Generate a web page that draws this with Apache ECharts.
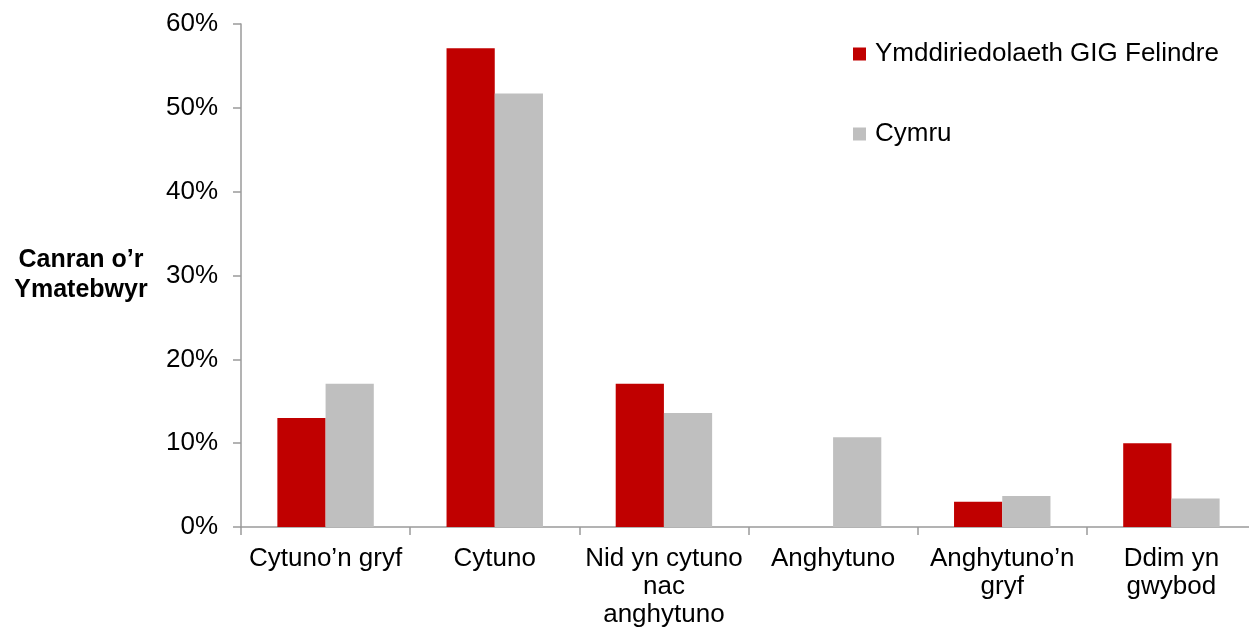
<!DOCTYPE html>
<html>
<head>
<meta charset="utf-8">
<script src="https://cdn.jsdelivr.net/npm/echarts@6/dist/echarts.min.js"></script>
<style>
  html, body { margin: 0; padding: 0; background: #fff; overflow: hidden; }
  /* the chart is slightly wider than the window: the last category runs off the right edge */
  #chart { width: 1256px; height: 634px; }
</style>
</head>
<body>
<div id="chart"></div>
<script>
// Response categories (line breaks as shown under the axis)
const categories = [
  'Cytuno’n gryf',
  'Cytuno',
  'Nid yn cytuno\nnac\nanghytuno',
  'Anghytuno',
  'Anghytuno’n\ngryf',
  'Ddim yn\ngwybod'
];

// Percentage of respondents per category
const seriesNames = ['Ymddiriedolaeth GIG Felindre', 'Cymru'];
const felindreValues = [13.0, 57.1, 17.1, 0, 3.0, 10.0];
const cymruValues = [17.1, 51.7, 13.6, 10.7, 3.7, 3.4];

// Value axis ticks
const yMin = 0;
const yMax = 60;
const yStep = 10;

const axisName = 'Canran o’r\nYmatebwyr';

const FONT = '"Liberation Sans", Arial, sans-serif';
const axisGrey = '#9a9a9a';

const chart = echarts.init(document.getElementById('chart'));
chart.setOption({
  animation: false,
  backgroundColor: '#ffffff',
  textStyle: { fontFamily: FONT, color: '#000' },
  grid: { left: 241, top: 24, bottom: 107, right: 0, containLabel: false },
  legend: {
    orient: 'vertical',
    left: 853,
    top: 41,
    padding: 0,
    itemWidth: 13,
    itemHeight: 13,
    itemGap: 54,
    icon: 'rect',
    textStyle: { fontFamily: FONT, fontSize: 26, color: '#000', padding: [0, 0, 0, 4] },
    data: seriesNames
  },
  xAxis: {
    type: 'category',
    data: categories,
    axisLine: { show: true, lineStyle: { color: axisGrey, width: 1.5 } },
    axisTick: { show: true, length: 8, lineStyle: { color: axisGrey, width: 1.5 } },
    axisLabel: {
      fontFamily: FONT, fontSize: 26, color: '#000',
      margin: 18, lineHeight: 28, interval: 0
    }
  },
  yAxis: {
    type: 'value',
    min: yMin,
    max: yMax,
    interval: yStep,
    name: axisName,
    nameLocation: 'middle',
    nameRotate: 0,
    nameGap: 160,
    nameTextStyle: {
      fontFamily: FONT, fontSize: 25, fontWeight: 'bold', color: '#000',
      lineHeight: 30, align: 'center'
    },
    axisLine: { show: true, lineStyle: { color: axisGrey, width: 1.5 } },
    axisTick: { show: true, length: 8, lineStyle: { color: axisGrey, width: 1.5 } },
    splitLine: { show: false },
    axisLabel: {
      fontFamily: FONT, fontSize: 26, color: '#000', margin: 23,
      formatter: '{value}%'
    }
  },
  series: [
    {
      name: seriesNames[0],
      type: 'bar',
      data: felindreValues,
      barGap: '0%',
      barCategoryGap: '43%',
      itemStyle: { color: '#c00000' }
    },
    {
      name: seriesNames[1],
      type: 'bar',
      data: cymruValues,
      barGap: '0%',
      barCategoryGap: '43%',
      itemStyle: { color: '#bfbfbf' }
    }
  ]
});
</script>
</body>
</html>
